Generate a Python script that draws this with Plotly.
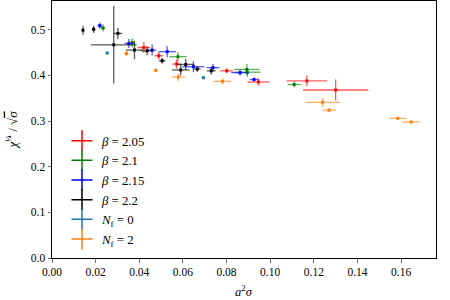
import plotly.graph_objects as go

# β = 2.05
r_x = [0.0421, 0.0489, 0.0571, 0.0801, 0.0946, 0.1168, 0.1300]
r_y = [0.461, 0.443, 0.425, 0.410, 0.3856, 0.388, 0.368]
r_xe = [0.003, 0.002, 0.002, 0.003, 0.005, 0.0093, 0.015]
r_ye = [0.012, 0.008, 0.010, 0.005, 0.008, 0.012, 0.023]
# β = 2.1
g_x = [0.0234, 0.0368, 0.0577, 0.0893, 0.0895, 0.1110]
g_y = [0.504, 0.4716, 0.441, 0.413, 0.407, 0.380]
g_xe = [0.001, 0.001, 0.004, 0.0058, 0.0061, 0.003]
g_ye = [0.008, 0.010, 0.010, 0.012, 0.010, 0.006]
# β = 2.15
b_x = [0.0219, 0.0352, 0.0459, 0.0528, 0.0648, 0.0738, 0.0862, 0.0926]
b_y = [0.509, 0.470, 0.4555, 0.452, 0.419, 0.417, 0.406, 0.391]
b_xe = [0.001, 0.002, 0.002, 0.004, 0.005, 0.003, 0.004, 0.002]
b_ye = [0.007, 0.010, 0.012, 0.012, 0.012, 0.008, 0.006, 0.004]
# β = 2.2
k_x = [0.0142, 0.0191, 0.0283, 0.0302, 0.0378, 0.0436, 0.0505, 0.0590, 0.0613, 0.0666, 0.0730]
k_y = [0.499, 0.501, 0.467, 0.492, 0.4555, 0.454, 0.432, 0.412, 0.424, 0.414, 0.410]
k_xe = [0.0005, 0.0008, 0.0105, 0.002, 0.004, 0.003, 0.0015, 0.004, 0.004, 0.0015, 0.002]
k_ye = [0.010, 0.008, 0.085, 0.012, 0.020, 0.010, 0.006, 0.012, 0.012, 0.006, 0.008]
# N_f = 0
n0_x = [0.0253, 0.0694]
n0_y = [0.449, 0.395]
n0_xe = [0.0004, 0.0004]
n0_ye = [0.002, 0.002]
# N_f = 2
n2_x = [0.0341, 0.0476, 0.0579, 0.0781, 0.1240, 0.1270, 0.1585, 0.1646]
n2_y = [0.448, 0.411, 0.3965, 0.387, 0.341, 0.324, 0.306, 0.298]
n2_xe = [0.001, 0.0008, 0.003, 0.004, 0.008, 0.003, 0.004, 0.004]
n2_ye = [0.006, 0.004, 0.008, 0.006, 0.010, 0.004, 0.003, 0.003]

series = [
    ("<i>β</i> = 2.05", r_x, r_y, r_xe, r_ye, (255, 0, 0)),
    ("<i>β</i> = 2.1", g_x, g_y, g_xe, g_ye, (0, 128, 0)),
    ("<i>β</i> = 2.15", b_x, b_y, b_xe, b_ye, (0, 0, 255)),
    ("<i>β</i> = 2.2", k_x, k_y, k_xe, k_ye, (0, 0, 0)),
    ("<i>N</i><sub>f</sub> = 0", n0_x, n0_y, n0_xe, n0_ye, (31, 119, 180)),
    ("<i>N</i><sub>f</sub> = 2", n2_x, n2_y, n2_xe, n2_ye, (255, 127, 14)),
]

fig = go.Figure()
for name, x, y, xe, ye, c in series:
    col = "rgb(%d,%d,%d)" % c
    ecol = "rgba(%d,%d,%d,0.65)" % c
    fig.add_trace(go.Scatter(
        x=x, y=y, mode="markers", name=name, showlegend=False,
        marker=dict(symbol="square", size=3, color=col),
        error_x=dict(type="data", array=xe, color=ecol, thickness=1.3, width=0),
        error_y=dict(type="data", array=ye, color=ecol, thickness=1.3, width=0),
    ))
    fig.add_trace(go.Scatter(
        x=[None], y=[None], mode="markers", name=name,
        marker=dict(symbol="cross-thin-open", size=15, color=col,
                    line=dict(color=ecol, width=1.5)),
    ))

font = "Liberation Serif"
fig.update_layout(
    width=450, height=300,
    margin=dict(l=52, r=14, t=1, b=42),
    paper_bgcolor="white", plot_bgcolor="white",
    font=dict(family=font, size=11.5, color="black"),
    legend=dict(x=0.026, y=0.514, xanchor="left", yanchor="top",
                bgcolor="rgba(0,0,0,0)", font=dict(family=font, size=12.8),
                tracegroupgap=0, itemwidth=30),
    xaxis=dict(range=[0, 0.176], tickvals=[0, 0.02, 0.04, 0.06, 0.08, 0.10, 0.12, 0.14, 0.16],
               tickformat=".2f", ticks="outside", ticklen=3.5, tickwidth=0.8,
               showline=True, linecolor="black", linewidth=1, mirror=True,
               showgrid=False, zeroline=False),
    yaxis=dict(range=[0, 0.563], tickvals=[0, 0.1, 0.2, 0.3, 0.4, 0.5],
               tickformat=".1f", ticks="outside", ticklen=3.5, tickwidth=0.8,
               showline=True, linecolor="black", linewidth=1, mirror=True,
               showgrid=False, zeroline=False,
               title=dict(text="<i>χ</i><sup>¼</sup> / √<span style='text-decoration:overline'><i>σ</i></span>",
                          standoff=10, font=dict(family=font, size=13))),
    annotations=[dict(text="<i>a</i><sup>2</sup><i>σ</i>", xref="paper", yref="paper",
                      x=0.5, y=-0.128, xanchor="center", yanchor="middle",
                      showarrow=False, font=dict(family=font, size=12.5))],
)
fig.write_html("out.html", config=dict(displayModeBar=False, staticPlot=True),
               post_script="document.body.style.margin='0';document.body.style.overflow='hidden';")
